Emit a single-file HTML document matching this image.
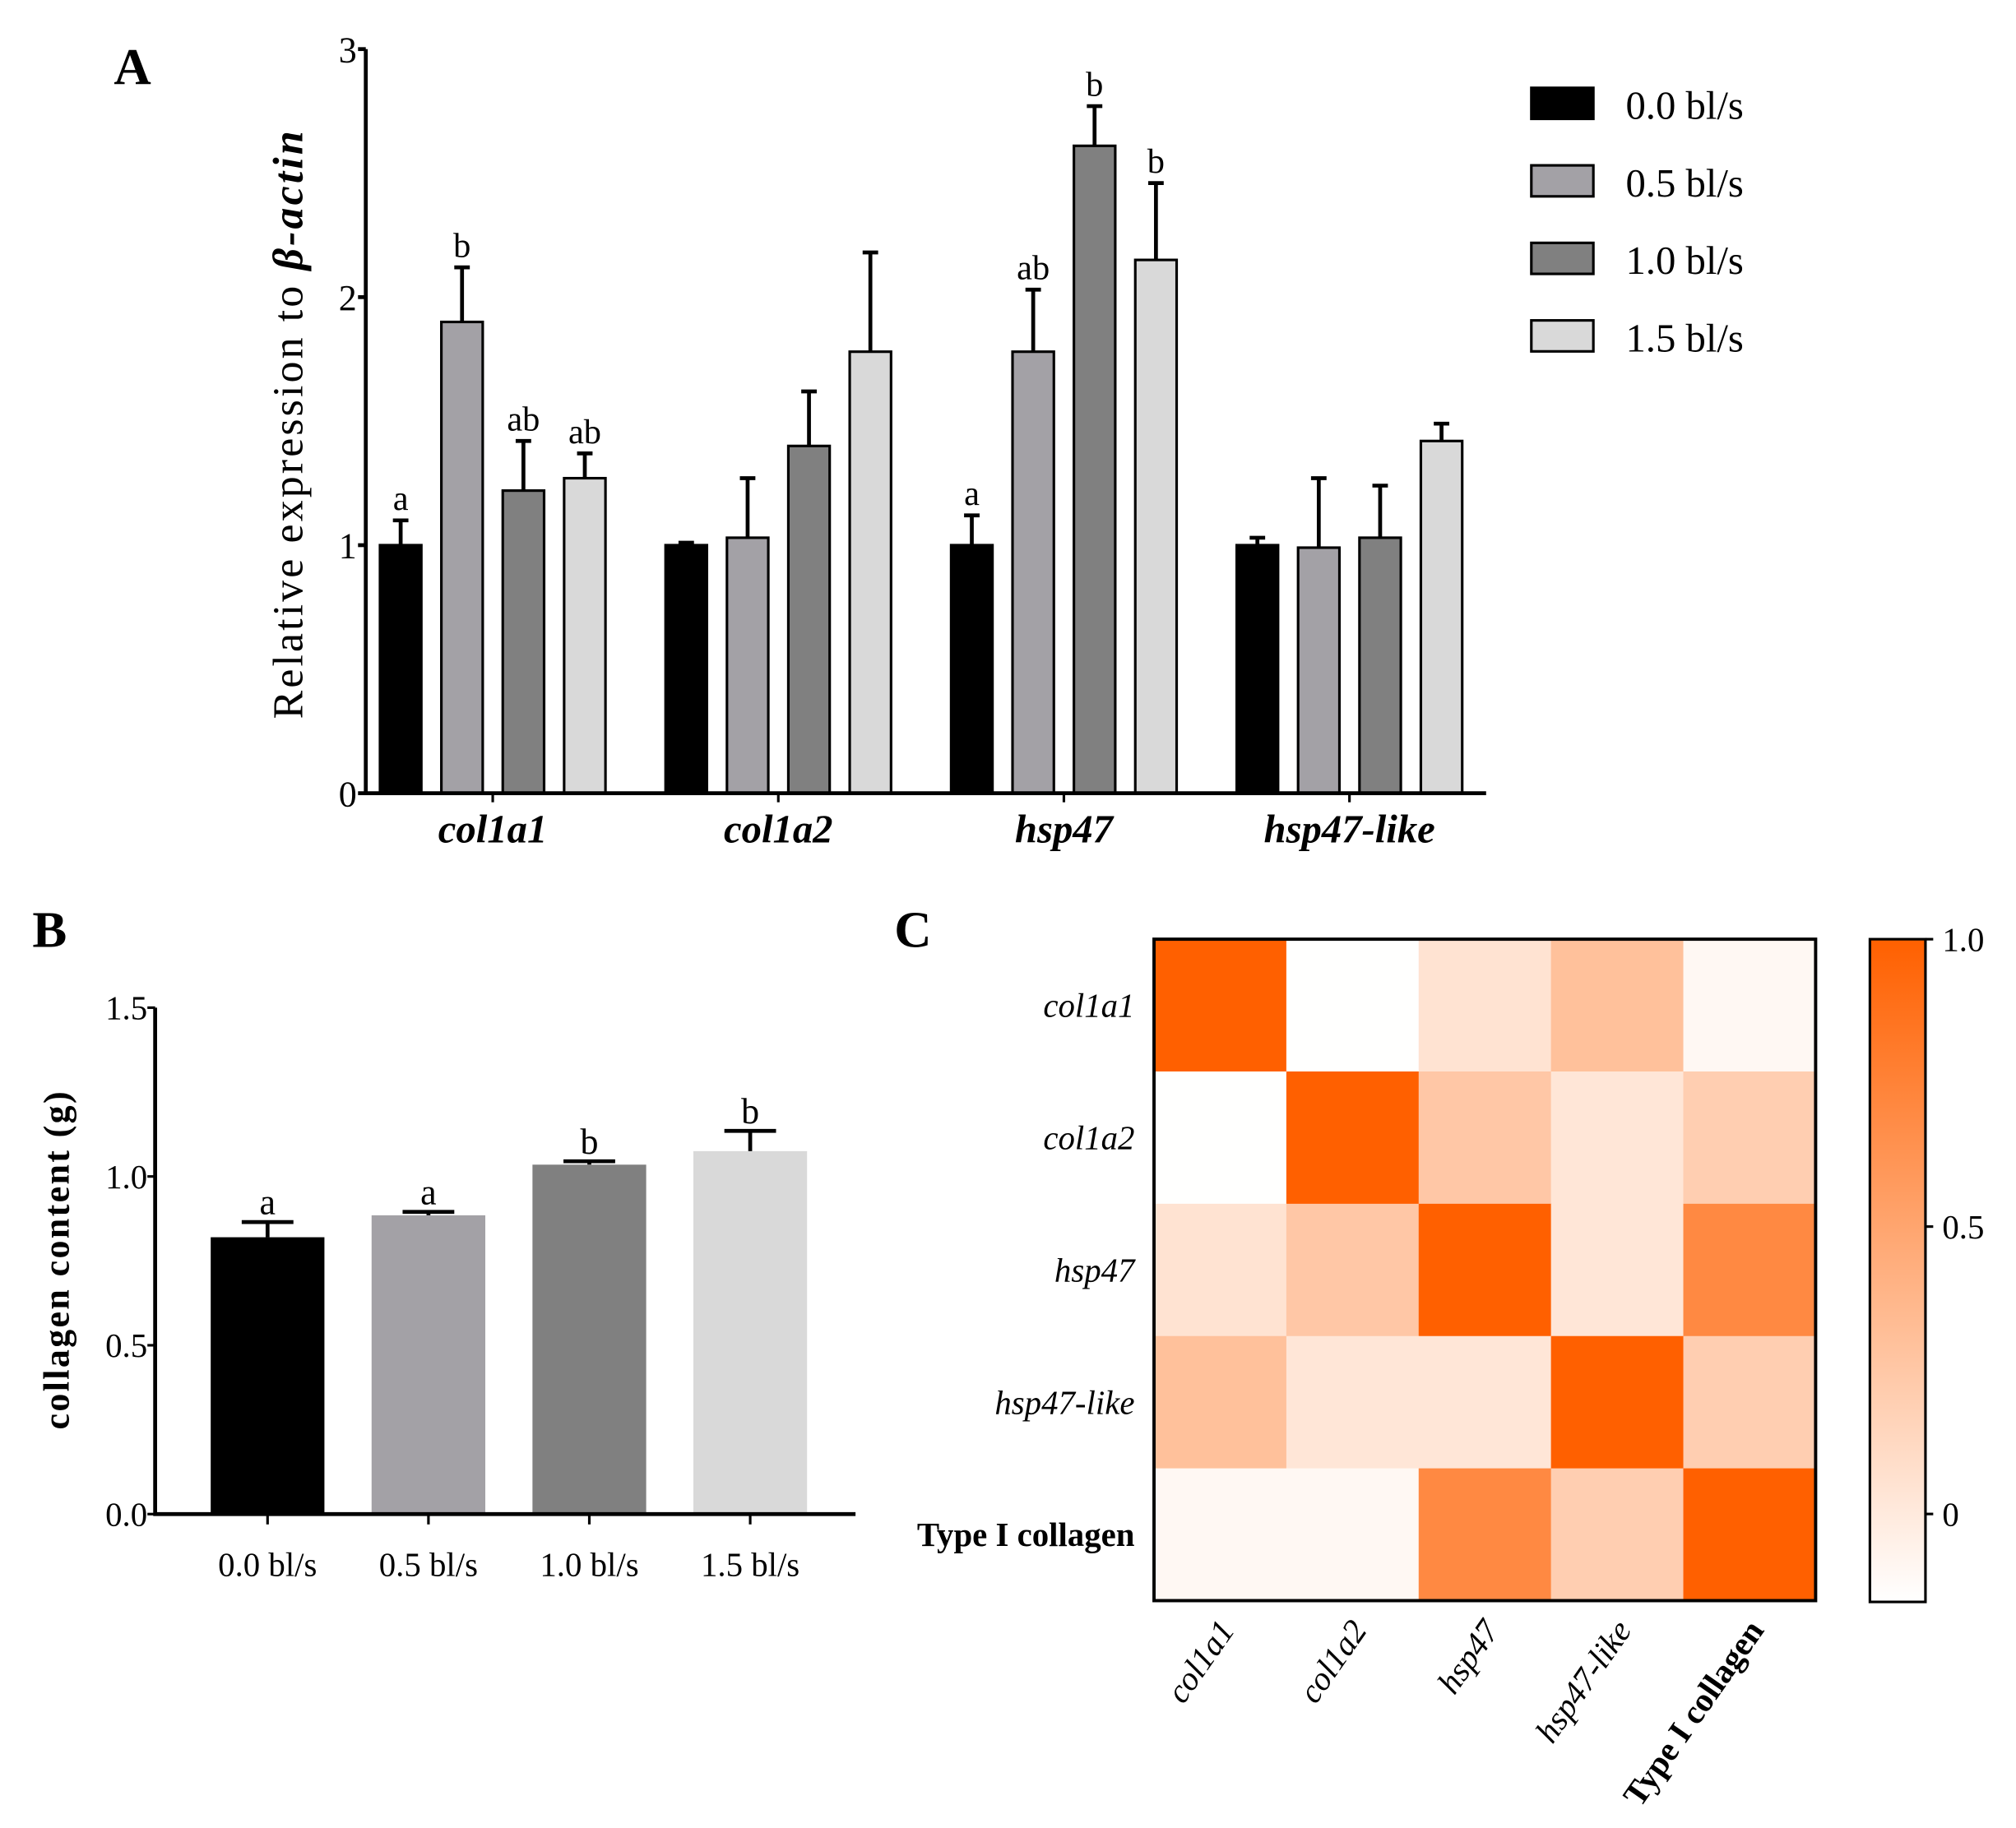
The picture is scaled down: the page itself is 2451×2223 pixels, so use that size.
<!DOCTYPE html>
<html><head><meta charset="utf-8"><style>
html,body{margin:0;padding:0;background:#fff}
svg{display:block}
text{font-family:"Liberation Serif",serif}
</style></head><body>
<svg id="fig" width="2451" height="2223" viewBox="0 0 1560 1415" xmlns="http://www.w3.org/2000/svg">
<g id="pA"></g>
<g id="pB"></g>
<g id="pC"></g>
</svg>
<script>
// Panel A data
const genesA = ["col1a1","col1a2","hsp47","hsp47-like"];
const seriesNames = ["0.0 bl/s","0.5 bl/s","1.0 bl/s","1.5 bl/s"];
const meansA = [[1.0,1.9,1.22,1.27],[1.0,1.03,1.4,1.78],[1.0,1.78,2.61,2.15],[1.0,0.99,1.03,1.42]];
const errTopA = [[1.1,2.12,1.42,1.37],[1.01,1.27,1.62,2.18],[1.12,2.03,2.77,2.46],[1.03,1.27,1.24,1.49]];
const lettersA = [["a","b","ab","ab"],["","","",""],["a","ab","b","b"],["","","",""]];
const ticksA = [0,1,2,3];
// Panel B data
const catsB = ["0.0 bl/s","0.5 bl/s","1.0 bl/s","1.5 bl/s"];
const meansB = [0.82,0.885,1.035,1.075];
const errTopB = [0.865,0.895,1.045,1.135];
const lettersB = ["a","a","b","b"];
const ticksB = ["0.0","0.5","1.0","1.5"];
// Panel C data
const labelsC = ["col1a1","col1a2","hsp47","hsp47-like","Type I collagen"];
const italicC = [true,true,true,true,false];
const matrixC = [
 [1.0,-0.15,0.05,0.3,-0.1],
 [-0.15,1.0,0.25,0.03,0.2],
 [0.05,0.25,1.0,0.03,0.7],
 [0.3,0.03,0.03,1.0,0.2],
 [-0.1,-0.1,0.7,0.2,1.0]];
const cbTicks = [0,0.5,1.0];

const NS="http://www.w3.org/2000/svg";
function mk(parent,tag,attrs,txt){const e=document.createElementNS(NS,tag);for(const k in attrs)e.setAttribute(k,attrs[k]);if(txt!==undefined)e.textContent=txt;parent.appendChild(e);return e;}
const colors=["#000000","#a3a1a6","#808080","#d9d9d9"];

// ---------- Panel A ----------
(function(){
 const g=document.getElementById('pA');
 const x0=283,x1=1150,yb=614,yt=38,vmax=3;
 const y=v=>yb-(yb-yt)*v/vmax;
 const gx=i=>294+221*i, bx=j=>47.5*j, bw=32;
 let t=mk(g,'text',{x:88,y:65,'font-size':40,'font-weight':'bold'},'A');
 
 genesA.forEach((gn,i)=>{
  meansA[i].forEach((v,j)=>{
   const x=gx(i)+bx(j);
   const r=mk(g,'rect',{x:x,y:y(v),width:bw,height:yb-y(v),fill:colors[j],stroke:'#000','stroke-width':2});
   
   const cx=x+bw/2;
   const l=mk(g,'path',{d:`M${cx} ${y(v)}V${y(errTopA[i][j])}M${cx-6} ${y(errTopA[i][j])}H${cx+6}`,stroke:'#000','stroke-width':3,fill:'none'});
   
   if(lettersA[i][j]){const s=mk(g,'text',{x:cx,y:y(errTopA[i][j])-8,'font-size':27,'text-anchor':'middle'},lettersA[i][j]);
    }
  });
  const c=gx(i)+bx(1.5)+bw/2;
  mk(g,'line',{x1:c,x2:c,y1:yb,y2:yb+7,stroke:'#000','stroke-width':2});
  const lab=mk(g,'text',{x:c,y:652,'font-size':31,'font-weight':'bold','font-style':'italic','text-anchor':'middle'},gn);
  
 });
 mk(g,'path',{d:`M${x0} ${yt}V${yb}H${x1}`,stroke:'#000','stroke-width':3,fill:'none'});
 ticksA.forEach(v=>{mk(g,'line',{x1:x0-6,x2:x0,y1:y(v),y2:y(v),stroke:'#000','stroke-width':3});
  const tl=mk(g,'text',{x:x0-7,y:y(v)+10,'font-size':28,'text-anchor':'end'},v);
  });
 const yt2=mk(g,'text',{x:0,y:0,'font-size':33,'text-anchor':'middle','letter-spacing':'2','font-weight':'bold',transform:'translate(234,328) rotate(-90)'});
 
 yt2.innerHTML='<tspan font-weight="normal">Relative expression to </tspan><tspan font-style="italic">β-actin</tspan>';
 seriesNames.forEach((s,j)=>{
  const yy=68+60*j;
  const r=mk(g,'rect',{x:1185,y:yy,width:48,height:24,fill:colors[j],stroke:'#000','stroke-width':2});
  
  const tx=mk(g,'text',{x:1258,y:yy+24,'font-size':31},s);
  
 });
})();

// ---------- Panel B ----------
(function(){
 const g=document.getElementById('pB');
 const x0=120,x1=662,yb=1172,yt=780,vmax=1.5;
 const y=v=>yb-(yb-yt)*v/vmax;
 const cx=i=>207+124.5*i, bw=88;
 let t=mk(g,'text',{x:25,y:733,'font-size':40,'font-weight':'bold'},'B');
 
 catsB.forEach((c,i)=>{
  const v=meansB[i],x=cx(i);
  const r=mk(g,'rect',{x:x-bw/2,y:y(v),width:bw,height:yb-y(v),fill:colors[i]});
  
  const e=mk(g,'path',{d:`M${x} ${y(v)}V${y(errTopB[i])}M${x-20} ${y(errTopB[i])}H${x+20}`,stroke:'#000','stroke-width':3,fill:'none'});
  
  const s=mk(g,'text',{x:x,y:y(errTopB[i])-6,'font-size':28,'text-anchor':'middle'},lettersB[i]);
  
  mk(g,'line',{x1:x,x2:x,y1:yb,y2:yb+8,stroke:'#000','stroke-width':2});
  const l=mk(g,'text',{x:x,y:1220,'font-size':26,'text-anchor':'middle'},c);
  
 });
 mk(g,'path',{d:`M${x0} ${yt}V${yb}H${x1}`,stroke:'#000','stroke-width':3,fill:'none'});
 ticksB.forEach(v=>{const yy=y(parseFloat(v));mk(g,'line',{x1:x0-6,x2:x0,y1:yy,y2:yy,stroke:'#000','stroke-width':2});
  const tl=mk(g,'text',{x:x0-6,y:yy+9,'font-size':26,'text-anchor':'end'},v);
  });
 const yt2=mk(g,'text',{x:0,y:0,'font-size':28,'font-weight':'bold','text-anchor':'middle','letter-spacing':'1.5',transform:'translate(53,975) rotate(-90)'},'collagen content (g)');
 
})();

// ---------- Panel C ----------
(function(){
 const g=document.getElementById('pC');
 const X0=893,Y0=727,W=512,n=labelsC.length,cs=W/n;
 const vmin=-0.153,vmax=1.0;
 function col(v){const f=Math.max(0,Math.min(1,(v-vmin)/(vmax-vmin)));
  const r=255,gg=Math.round(255+(96-255)*f),b=Math.round(255+(0-255)*f);return `rgb(${r},${gg},${b})`;}
 let t=mk(g,'text',{x:692,y:733,'font-size':40,'font-weight':'bold'},'C');
 
 matrixC.forEach((row,i)=>row.forEach((v,j)=>{
  const r=mk(g,'rect',{x:X0+j*cs,y:Y0+i*cs,width:cs+0.5,height:cs+0.5,fill:col(v)});
  
 }));
 mk(g,'rect',{x:X0,y:Y0,width:W,height:W,fill:'none',stroke:'#000','stroke-width':2.5});
 labelsC.forEach((l,i)=>{
  const a=mk(g,'text',{x:878,y:Y0+(i+0.5)*cs+9,'font-size':26,'text-anchor':'end','font-style':italicC[i]?'italic':'normal','font-weight':italicC[i]?'normal':'bold'},l);
  
  const cx=X0+(i+0.5)*cs+12;
  const b=mk(g,'text',{x:0,y:0,'font-size':26,'text-anchor':'end','font-style':italicC[i]?'italic':'normal','font-weight':italicC[i]?'normal':'bold',transform:`translate(${cx},1262) rotate(-55)`},l);
  
 });
 // colorbar
 const cbx=1447,cbw=43,cbt=727,cbb=1240;
 const defs=mk(g,'defs',{});
 const lg=mk(defs,'linearGradient',{id:'cbg',x1:0,y1:1,x2:0,y2:0});
 mk(lg,'stop',{offset:0,'stop-color':col(vmin)});mk(lg,'stop',{offset:1,'stop-color':col(vmax)});
 const cb=mk(g,'rect',{x:cbx,y:cbt,width:cbw,height:cbb-cbt,fill:'url(#cbg)',stroke:'#000','stroke-width':2});
 
 const cy=v=>cbb-(cbb-cbt)*(v-vmin)/(vmax-vmin);
 cbTicks.forEach(v=>{mk(g,'line',{x1:cbx+cbw,x2:cbx+cbw+6,y1:cy(v),y2:cy(v),stroke:'#000','stroke-width':2});
  const tl=mk(g,'text',{x:1503,y:cy(v)+9,'font-size':26},v===0?'0':v.toFixed(1));
  });
})();
</script>
</body></html>
